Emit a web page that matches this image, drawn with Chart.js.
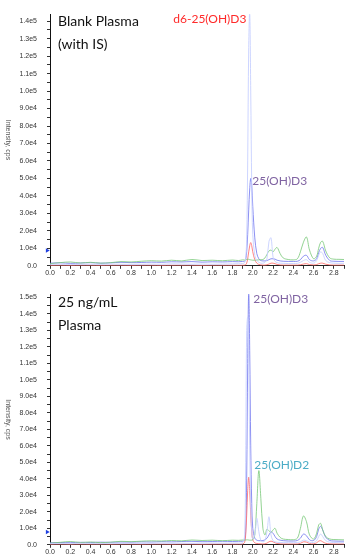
<!DOCTYPE html>
<html>
<head>
<meta charset="utf-8">
<script src="https://cdn.jsdelivr.net/npm/chart.js@4.4.1/dist/chart.umd.min.js"></script>
<style>
  html, body { margin: 0; padding: 0; background: #fff; }
  body { width: 348px; height: 559px; position: relative; overflow: hidden; }
  .box { position: absolute; left: 0; width: 348px; }
  #b1 { top: 0; height: 280px; }
  #b2 { top: 280px; height: 279px; }
  .panel { position: absolute; left: 58px; font: 14px Lato, "Open Sans", sans-serif; color: #111; line-height: 23px; }
</style>
</head>
<body>
<div class="box" id="b1"><canvas id="c1"></canvas></div>
<div class="box" id="b2"><canvas id="c2"></canvas></div>
<div class="panel" style="top:9px">Blank Plasma<br>(with IS)</div>
<div class="panel" style="top:290px">25 ng/mL<br>Plasma</div>
<script>
// ---- data (time in min, intensity in cps) ----
const times = [0,0.1,0.2,0.3,0.4,0.5,0.6,0.7,0.8,0.9,1.0,1.1,1.2,1.3,1.4,1.5,1.6,1.7,1.8,
  1.86,1.9,1.92,1.93,1.94,1.95,1.96,1.97,1.98,1.99,2.0,
  2.02,2.04,2.06,2.08,2.1,2.12,2.14,2.16,2.18,2.2,2.22,2.24,
  2.27,2.3,2.35,2.4,2.44,2.47,2.5,2.53,2.56,2.6,2.63,2.65,2.67,2.69,2.72,2.76,2.8,2.85,2.9];

// Blank plasma (with IS)
const topD6 = [800,900,700,800,900,800,1000,900,800,900,1000,900,1100,1000,900,1000,900,1000,1100,
  1200,1300,1800,4000,15000,60000,125000,145000,100000,45000,18000,
  6000,3000,2000,1500,1500,2000,4000,14000,16000,5000,2500,1800,
  1500,1400,1300,1300,1400,2000,3000,3500,2000,1500,3000,6000,8000,7000,3000,1800,1500,1400,1400];
const topD3 = [1500,1700,1400,1600,1800,1500,1700,2000,1800,1900,2100,2000,2300,2200,2400,2100,2300,2200,2400,
  2300,2500,2600,3500,8000,18000,32000,44000,50000,46000,34000,
  16000,7000,4000,3000,2800,2800,3000,3500,4000,4000,3800,3200,
  2800,2600,2500,2500,2600,3500,5500,6000,3500,2800,4000,7500,10000,10500,6000,3000,2600,2500,2500];
const topRed = [200,300,200,300,300,200,300,300,200,300,300,200,300,300,300,200,300,300,300,
  300,300,400,600,1500,4000,8000,11500,13300,11500,8000,
  3500,1500,800,500,400,400,600,1000,1500,1500,1200,800,
  500,400,400,400,400,600,1000,1200,700,500,700,1200,1500,1500,900,500,400,400,400];
const topGreen = [1200,1800,2200,1600,2000,1500,1800,2400,2200,2600,2900,2700,3200,2800,3600,3000,3200,2900,3300,
  3000,3400,3300,3500,3600,3800,3700,3500,3400,3300,3200,
  3200,3300,3400,3500,3600,4500,6500,8500,9000,8000,9500,10500,
  7000,4500,3600,3400,4000,8000,13500,16500,9000,4000,5500,10000,13500,14000,8500,4500,3800,3700,3600];

// 25 ng/mL plasma
const botD6 = [700,800,700,900,800,700,900,800,900,800,900,1000,900,1000,900,1000,1100,1000,1100,
  1100,1300,6000,50000,130000,138000,110000,60000,22000,8000,3500,
  6000,16000,8000,2500,1800,2500,8000,17000,6000,2500,1800,1500,
  1400,1300,1300,1300,1400,1800,2800,2500,1600,1400,2500,5000,6500,5000,2500,1600,1400,1300,1300];
const botD3 = [1200,1400,1300,1500,1400,1600,1500,1700,1600,1800,1700,1900,1800,2000,2100,1900,2000,2100,2000,
  2100,2200,3000,8000,40000,110000,153000,118000,60000,25000,10000,
  4000,2800,2500,2500,2600,3000,4000,6000,7800,7000,5000,3500,
  2800,2500,2300,2300,2600,4000,6500,5500,3000,2600,5000,9500,11200,9000,4500,2600,2300,2200,2200];
const botRed = [300,400,300,400,300,400,300,400,400,300,400,400,300,400,400,300,400,400,400,
  400,500,1500,6000,18000,33000,41000,33000,18000,8000,3000,
  1200,800,700,600,500,600,1000,1800,2200,1800,1200,800,
  600,500,500,500,500,900,1800,1600,800,600,1200,2200,2500,1800,900,600,500,500,500];
const botGreen = [1000,1500,2000,1400,1700,1300,1600,2100,1900,2200,2400,2300,2600,2400,2900,2600,2800,2500,2800,
  2700,2900,2800,2900,3000,3000,2900,2800,2800,2800,3000,
  6000,25000,45000,28000,10000,6000,9500,8500,7500,9000,10000,7000,
  4500,3500,3200,3100,4000,10000,17500,14000,6000,3500,7000,12000,13000,9000,5000,3500,3200,3100,3000];

// small blue marker on the y axis
const markerTime = [-0.028];
const markerTop = [8800];
const markerBot = [7800];

// tick labels
const xTickLabels = ["0.0","0.2","0.4","0.6","0.8","1.0","1.2","1.4","1.6","1.8","2.0","2.2","2.4","2.6","2.8"];
const yTickLabelsTop = ["0.0","1.0e4","2.0e4","3.0e4","4.0e4","5.0e4","6.0e4","7.0e4","8.0e4","9.0e4","1.0e5","1.1e5","1.2e5","1.3e5","1.4e5"];
const yTickLabelsBot = ["0.0","1.0e4","2.0e4","3.0e4","4.0e4","5.0e4","6.0e4","7.0e4","8.0e4","9.0e4","1.0e5","1.1e5","1.2e5","1.3e5","1.4e5","1.5e5"];

// peak labels
const peakLabelsTop = [
  {text: "d6-25(OH)D3", t: 1.937, v: 141000, color: "#ff2a2a", align: "right"},
  {text: "25(OH)D3", t: 1.995, v: 48700, color: "#8064a2", align: "left"}
];
const peakLabelsBot = [
  {text: "25(OH)D3", t: 2.005, v: 149000, color: "#8064a2", align: "left"},
  {text: "25(OH)D2", t: 2.015, v: 48400, color: "#4bacc6", align: "left"}
];

// ---- rendering ----
function pts(vals) { return times.map((t, i) => ({x: t, y: vals[i]})); }

const colPale = "rgba(200,208,255,0.9)";
const colBlue = "rgba(120,125,240,0.85)";
const colRed = "rgba(255,110,110,0.85)";
const colGreen = "rgba(120,200,120,0.8)";

const tickFont = {family: '"Liberation Sans", Arial, sans-serif', size: 7};

function makeChart(id, series, ymax, yLabels, labels, marker, topPad) {
  const ds = [
    {data: pts(series[0]), borderColor: colPale},
    {data: pts(series[3]), borderColor: colGreen},
    {data: pts(series[2]), borderColor: colRed},
    {data: pts(series[1]), borderColor: colBlue}
  ].map(d => Object.assign(d, {borderWidth: 1, pointRadius: 0, tension: 0.35, fill: false}));
  ds.push({
    type: 'scatter',
    data: [{x: markerTime[0], y: marker[0]}],
    pointStyle: 'triangle', rotation: 90, pointRadius: 2.6,
    backgroundColor: '#1f3fe0', borderColor: '#1f3fe0', borderWidth: 0, clip: false
  });

  const annot = {
    id: 'annot',
    afterDatasetsDraw(chart) {
      const ctx = chart.ctx, xs = chart.scales.x, ys = chart.scales.y;
      ctx.save();
      ctx.font = '12px Lato, "Open Sans", sans-serif';
      ctx.textBaseline = 'middle';
      labels.forEach(l => {
        ctx.fillStyle = l.color;
        ctx.textAlign = l.align;
        ctx.fillText(l.text, xs.getPixelForValue(l.t), ys.getPixelForValue(l.v));
      });
      // rotated axis title (reads top to bottom)
      const ca = chart.chartArea;
      ctx.translate(8, (ca.top + ca.bottom) / 2);
      ctx.rotate(Math.PI / 2);
      ctx.font = '7px "Liberation Sans", Arial, sans-serif';
      ctx.fillStyle = '#555';
      ctx.textAlign = 'center';
      ctx.fillText('Intensity, cps', 0, 0);
      ctx.restore();
    }
  };

  return new Chart(document.getElementById(id), {
    type: 'line',
    data: {datasets: ds},
    options: {
      responsive: true, maintainAspectRatio: false, animation: false,
      layout: {padding: {top: topPad, left: 0, right: 0, bottom: 0}},
      plugins: {legend: {display: false}, tooltip: {enabled: false}},
      scales: {
        x: {
          type: 'linear', min: 0, max: 2.9,
          grid: {display: true, drawOnChartArea: false, drawTicks: true, tickLength: 3, color: '#333'},
          border: {color: '#222', width: 1},
          ticks: {
            padding: 0, maxRotation: 0, autoSkip: false,
            color: '#333', font: tickFont,
            callback: (v) => { const i = Math.round(v * 10); return (i % 2 === 0) ? xTickLabels[i / 2] : ''; }
          },
          afterBuildTicks: (s) => {
            const tk = [];
            for (let i = 0; i < xTickLabels.length * 2; i++) tk.push({value: i / 10});
            s.ticks = tk;
          },
          afterFit: (s) => { s.height = (id === 'c1') ? 11 : 10; }
        },
        y: {
          type: 'linear', min: 0, max: ymax,
          grid: {display: true, drawOnChartArea: false, drawTicks: true, tickLength: 3, color: '#333'},
          border: {color: '#111', width: 1},
          ticks: {
            padding: 10, autoSkip: false,
            color: '#333', font: tickFont,
            callback: (v) => (Math.round(v) % 10000 === 0) ? yLabels[Math.round(v / 10000)] : ''
          },
          afterBuildTicks: (s) => {
            const tk = [];
            for (let i = 0; i < yLabels.length * 2; i++) {
              const v = i * 5000;
              if (v <= ymax) tk.push({value: v});
            }
            s.ticks = tk;
          },
          afterFit: (s) => { s.width = 50; }
        }
      }
    },
    plugins: [annot]
  });
}

makeChart('c1', [topD6, topD3, topRed, topGreen], 144000, yTickLabelsTop, peakLabelsTop, markerTop, 8);
makeChart('c2', [botD6, botD3, botRed, botGreen], 152000, yTickLabelsBot, peakLabelsBot, markerBot, 11);
</script>
</body>
</html>
